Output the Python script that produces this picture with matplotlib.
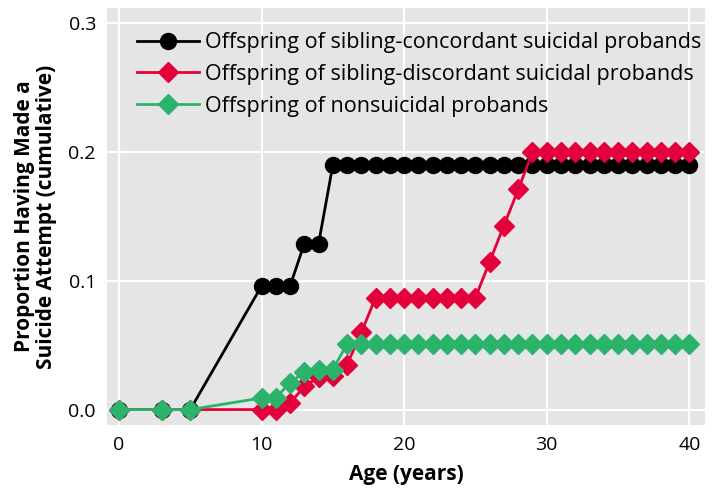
import matplotlib
matplotlib.use("Agg")
import matplotlib.pyplot as plt

plt.rcParams['font.family'] = ['Open Sans', 'DejaVu Sans']

ages_conc = [0, 3, 5, 10, 11, 12, 13, 14] + list(range(15, 41))
vals_conc = [0, 0, 0, 0.096, 0.096, 0.096, 0.129, 0.129] + [0.19] * 26

ages_disc = [0, 3, 5, 10, 11, 12, 13, 14, 15, 16, 17] + list(range(18, 26)) + [26, 27, 28] + list(range(29, 41))
vals_disc = [0, 0, 0, 0, 0, 0.005, 0.018, 0.025, 0.026, 0.035, 0.060] + [0.087] * 8 + [0.115, 0.143, 0.171] + [0.20] * 12

ages_non = [0, 3, 5, 10, 11, 12, 13, 14, 15] + list(range(16, 41))
vals_non = [0, 0, 0, 0.009, 0.009, 0.021, 0.029, 0.031, 0.031] + [0.051] * 25

labels = ["Offspring of sibling-concordant suicidal probands",
          "Offspring of sibling-discordant suicidal probands",
          "Offspring of nonsuicidal probands"]
xticks = [0, 10, 20, 30, 40]
yticks = [0.0, 0.1, 0.2, 0.3]

black = "#000000"
red = "#E4003A"
green = "#2BB36B"

fig = plt.figure(figsize=(7.12, 4.97), dpi=100)
ax = fig.add_axes([107/712, 1 - 425/497, (705-107)/712, (425-8)/497])
ax.set_facecolor("#E5E5E5")
ax.grid(True, color="white", linewidth=1.5)
ax.set_axisbelow(True)
for s in ax.spines.values():
    s.set_visible(False)

ax.plot(ages_conc, vals_conc, color=black, marker='o', markersize=11.5, linewidth=2, label=labels[0], zorder=3)
ax.plot(ages_disc, vals_disc, color=red, marker='D', markersize=10.5, linewidth=2, label=labels[1], zorder=4)
ax.plot(ages_non, vals_non, color=green, marker='D', markersize=10.5, linewidth=2, label=labels[2], zorder=5)

ax.set_xlim(-0.84, 41.1)
ax.set_ylim(-0.012, 0.312)
ax.set_xticks(xticks)
ax.set_xticklabels([str(t) for t in xticks])
ax.set_yticks(yticks)
ax.set_yticklabels([f"{t:.1f}" for t in yticks])
ax.tick_params(length=0, labelsize=14, pad=8)

ax.set_xlabel("Age (years)", fontsize=15, fontweight='bold', labelpad=7)
ax.set_ylabel("Proportion Having Made a\nSuicide Attempt (cumulative)", fontsize=15, fontweight='bold',
              labelpad=8, linespacing=1.05)

leg = ax.legend(loc='upper left', bbox_to_anchor=(0.035, 0.963), frameon=False, fontsize=15.5,
                handlelength=2.9, handletextpad=0.3, labelspacing=0.5, borderaxespad=0)

fig.savefig("out.png", dpi=100)
